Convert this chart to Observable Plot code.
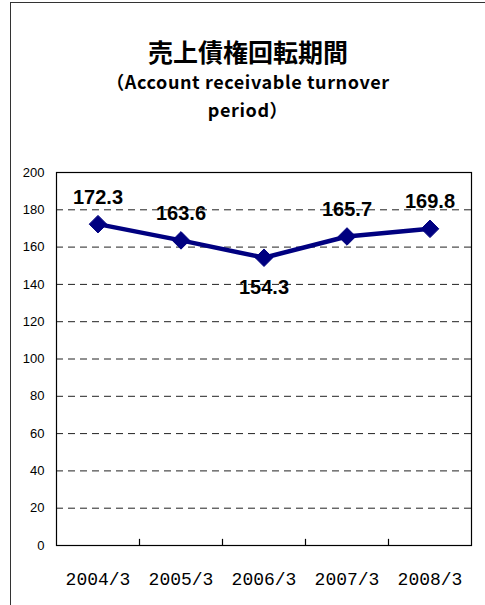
<!DOCTYPE html>
<html>
<head>
<meta charset="utf-8">
<script src="https://cdn.jsdelivr.net/npm/d3@7"></script>
<script src="https://cdn.jsdelivr.net/npm/@observablehq/plot@0.6"></script>
<style>
  html, body { margin: 0; padding: 0; background: #fff; }
  #wrap { position: relative; width: 485px; height: 605px; overflow: hidden; }
  #frame { position: absolute; left: 10px; top: 2px; width: 520px; height: 640px; border: 1.5px solid #333; box-sizing: border-box; }
  #title { position: absolute; left: 10px; width: 476px; top: 35px; text-align: center; color: #000; }
  #title .t1 { font-family: "Noto Sans CJK JP", sans-serif; font-weight: 700; font-size: 25px; line-height: 32px; }
  #title .t2 { font-family: "Noto Sans CJK JP", "Liberation Sans", sans-serif; font-weight: 600; font-size: 18px; line-height: 26.5px; letter-spacing: 0.6px; margin-top: 1px; }
  #chart { position: absolute; left: 0; top: 0; }
</style>
</head>
<body>
<div id="wrap">
  <div id="frame"></div>
  <div id="chart"></div>
  <div id="title">
    <div class="t1">売上債権回転期間</div>
    <div class="t2">（Account receivable turnover</div>
    <div class="t2">period）</div>
  </div>
</div>
<script>
const categories = ["2004/3", "2005/3", "2006/3", "2007/3", "2008/3"];
const values = [172.3, 163.6, 154.3, 165.7, 169.8];
const yTicks = [0, 20, 40, 60, 80, 100, 120, 140, 160, 180, 200];
const gridValues = [20, 40, 60, 80, 100, 120, 140, 160, 180];

const data = categories.map((c, i) => ({ i: i + 1, category: c, value: values[i] }));
const isMin = (d) => d.value === d3.min(values);
const boundaries = d3.range(1.5, categories.length, 1);

const squareDiamond = {
  draw(context, size) {
    const r = Math.sqrt(size / 2);
    context.moveTo(0, -r);
    context.lineTo(r, 0);
    context.lineTo(0, r);
    context.lineTo(-r, 0);
    context.closePath();
  }
};

const chart = Plot.plot({
  width: 485,
  height: 605,
  marginLeft: 56,
  marginRight: 14,
  marginTop: 172,
  marginBottom: 60,
  style: { background: "transparent", overflow: "visible" },
  x: { domain: [0.5, categories.length + 0.5] },
  y: { domain: [0, 200] },
  marks: [
    Plot.ruleY(gridValues, { stroke: "#222", strokeWidth: 1, strokeDasharray: "7,5" }),
    Plot.frame({ stroke: "#000", strokeWidth: 1.2 }),
    Plot.ruleX(boundaries, { y1: 0, y2: 3.3, stroke: "#000", strokeWidth: 1.2 }),
    Plot.axisY({ ticks: yTicks, tickSize: 0, tickPadding: 12, fontSize: 13, label: null,
      fontFamily: "Liberation Sans, Arial, sans-serif", fill: "#000" }),
    Plot.axisX({ ticks: d3.range(1, categories.length + 1), tickSize: 0, tickPadding: 27,
      tickFormat: (d) => categories[d - 1], fontSize: 18, label: null,
      fontFamily: "Liberation Mono, monospace", fill: "#000" }),
    Plot.line(data, { x: "i", y: "value", stroke: "#000080", strokeWidth: 4.5 }),
    Plot.dot(data, { x: "i", y: "value", symbol: squareDiamond, r: 7, fill: "#000080", stroke: "#000080", strokeWidth: 1 }),
    Plot.text(data.filter((d) => !isMin(d)), { x: "i", y: "value", text: (d) => d.value.toFixed(1), dy: -27,
      fontSize: 20, fontWeight: "bold", fontFamily: "Liberation Sans, Arial, sans-serif", fill: "#000" }),
    Plot.text(data.filter(isMin), { x: "i", y: "value", text: (d) => d.value.toFixed(1), dy: 30,
      fontSize: 20, fontWeight: "bold", fontFamily: "Liberation Sans, Arial, sans-serif", fill: "#000" })
  ]
});
document.getElementById("chart").appendChild(chart);
</script>
</body>
</html>
